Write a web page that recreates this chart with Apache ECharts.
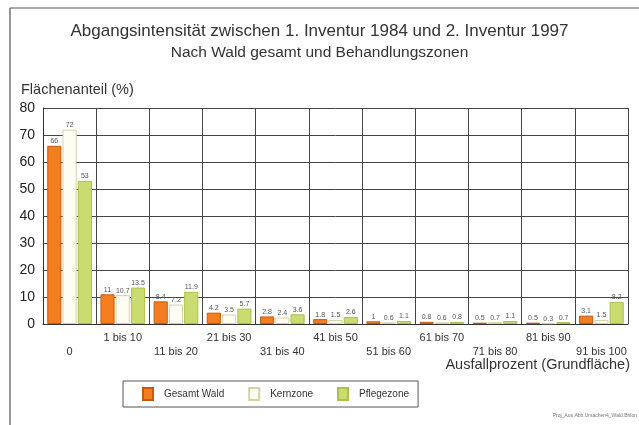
<!DOCTYPE html>
<html>
<head>
<meta charset="utf-8">
<script src="https://cdn.jsdelivr.net/npm/echarts@6/dist/echarts.min.js"></script>
<style>
  html, body { margin: 0; padding: 0; background: #fff; }
  #chart { width: 639px; height: 425px; }
</style>
</head>
<body>
<div id="chart"></div>
<script>
  // Ausfallprozent-Klassen
  var categories = ['0', '1 bis 10', '11 bis 20', '21 bis 30', '31 bis 40', '41 bis 50',
    '51 bis 60', '61 bis 70', '71 bis 80', '81 bis 90', '91 bis 100']
  var gesamtWald = [66, 11, 8.4, 4.2, 2.8, 1.8, 1.0, 0.8, 0.5, 0.5, 3.1]
  var kernzone = [72, 10.7, 7.2, 3.5, 2.4, 1.5, 0.6, 0.6, 0.7, 0.3, 1.5]
  var pflegezone = [53, 13.5, 11.9, 5.7, 3.6, 2.6, 1.1, 0.8, 1.1, 0.7, 8.2]
  var yTicks = [0, 10, 20, 30, 40, 50, 60, 70, 80]

  var chart = echarts.init(document.getElementById('chart'))

  var barLabel = {
    show: true,
    position: 'top',
    distance: 1,
    fontSize: 7,
    color: '#555',
    fontFamily: 'Liberation Sans'
  }

  var option = {
    backgroundColor: '#fff',
    animation: false,
    textStyle: { fontFamily: 'Liberation Sans' },
    title: [{
      text: 'Abgangsintensität zwischen 1. Inventur 1984 und 2. Inventur 1997',
      subtext: 'Nach Wald gesamt und Behandlungszonen',
      left: 'center',
      top: 18,
      itemGap: 5,
      textStyle: { fontSize: 17, fontWeight: 'normal', color: '#333' },
      subtextStyle: { fontSize: 15.5, color: '#333' }
    }],
    graphic: [
      { type: 'line', shape: { x1: 10, y1: 8, x2: 639, y2: 8 }, style: { stroke: '#555', lineWidth: 1.2 } },
      { type: 'line', shape: { x1: 10, y1: 8, x2: 10, y2: 425 }, style: { stroke: '#555', lineWidth: 1.2 } },
      { type: 'text', left: 21, top: 82, style: { text: 'Flächenanteil (%)', fontSize: 14.5, fill: '#333', fontFamily: 'Liberation Sans' } },
      { type: 'text', right: 9, top: 357, style: { text: 'Ausfallprozent (Grundfläche)', fontSize: 14.5, fill: '#333', fontFamily: 'Liberation Sans' } },
      { type: 'text', right: 2, top: 413, style: { text: 'Proj_Aus Abb.Ursachen4_Wald.Brilon', fontSize: 5, fill: '#777', fontFamily: 'Liberation Sans' } }
    ],
    legend: {
      data: ['Gesamt Wald', 'Kernzone', 'Pflegezone'],
      left: 123,
      top: 381,
      orient: 'horizontal',
      icon: 'rect',
      itemWidth: 10,
      itemHeight: 12,
      itemGap: 24,
      padding: [6, 9, 6, 19],
      borderColor: '#555',
      borderWidth: 1,
      textStyle: { fontSize: 10, color: '#333', padding: [0, 0, 0, 6] }
    },
    grid: { left: 43, right: 11, top: 108, bottom: 101 },
    xAxis: {
      type: 'category',
      data: categories,
      axisTick: { show: false },
      axisLine: { lineStyle: { color: '#333', width: 1 } },
      splitLine: { show: true, interval: 0, lineStyle: { color: '#444', width: 1 } },
      axisLabel: {
        interval: 0,
        fontSize: 11,
        color: '#333',
        margin: 7,
        lineHeight: 14,
        formatter: function (v, i) { return i % 2 === 0 ? '\n' + v : v }
      }
    },
    yAxis: {
      type: 'value',
      min: yTicks[0],
      max: yTicks[yTicks.length - 1],
      interval: 10,
      axisLine: { show: true, lineStyle: { color: '#333' } },
      axisTick: { show: false },
      splitLine: { lineStyle: { color: '#444', width: 1 } },
      axisLabel: { fontSize: 14, color: '#222', margin: 8 }
    },
    series: [{
      name: 'Gesamt Wald',
      type: 'bar',
      data: gesamtWald,
      barGap: '8%',
      barCategoryGap: '16%',
      itemStyle: { color: '#f47d20', borderColor: '#c75a10', borderWidth: 1 },
      label: barLabel
    },
    {
      name: 'Kernzone',
      type: 'bar',
      data: kernzone,
      itemStyle: { color: '#fefdf4', borderColor: '#d8d0a8', borderWidth: 1 },
      label: barLabel
    },
    {
      name: 'Pflegezone',
      type: 'bar',
      data: pflegezone,
      itemStyle: { color: '#cadb6f', borderColor: '#aebf50', borderWidth: 1 },
      label: barLabel
    }]
  }

  chart.setOption(option)
</script>
</body>
</html>
